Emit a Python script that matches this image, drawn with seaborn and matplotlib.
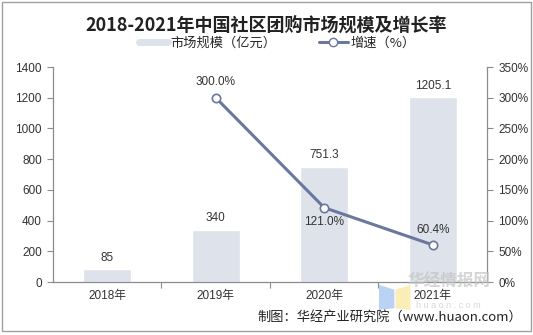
import matplotlib
matplotlib.use("Agg")
import matplotlib.pyplot as plt
from matplotlib.patches import Rectangle, Polygon
from matplotlib.lines import Line2D
from matplotlib.ticker import FuncFormatter
import seaborn as sns
import pandas as pd

years = ["2018年", "2019年", "2020年", "2021年"]
market_size = [85, 340, 751.3, 1205.1]
size_labels = ["85", "340", "751.3", "1205.1"]
growth_years = ["2019年", "2020年", "2021年"]
growth_rate = [3.00, 1.21, 0.604]
growth_labels = ["300.0%", "121.0%", "60.4%"]

title = "2018-2021年中国社区团购市场规模及增长率"
legend_bar = "市场规模（亿元）"
legend_line = "增速（%）"
source = "制图：华经产业研究院（www.huaon.com）"

bar_color = "#DEE2EB"
line_color = "#6A779E"
axis_color = "#8C8C8C"
text_color = "#333333"

sns.set_theme(style="white")
plt.rcParams["font.family"] = ["Liberation Sans", "Noto Sans CJK SC", "DejaVu Sans"]

fig = plt.figure(figsize=(5.33, 3.35), dpi=100)
ax = fig.add_axes([0.0994, 0.1582, 0.8143, 0.6418])

df = pd.DataFrame({"year": years, "size": market_size})
sns.barplot(data=df, x="year", y="size", order=years, color=bar_color,
            width=0.44, saturation=1, ax=ax)
ax.set_xlim(-0.5, 3.5)
ax.set_ylim(0, 1400)
ax.set_yticks(range(0, 1401, 200))
ax.set_xlabel("")
ax.set_ylabel("")

for i, lab in enumerate(size_labels):
    ax.text(i, market_size[i] + 35, lab, ha="center", va="bottom",
            fontsize=8.5, color=text_color)

ax2 = ax.twinx()
gdf = pd.DataFrame({"year": growth_years, "rate": growth_rate})
sns.pointplot(data=gdf, x="year", y="rate", order=years, color=line_color,
              markers="o", linewidth=2.2, markersize=6,
              markerfacecolor="white", markeredgecolor=line_color,
              markeredgewidth=1.2, ax=ax2)
for coll in ax2.collections:
    coll.set_facecolor("white")
    coll.set_edgecolor(line_color)
for ln in ax2.lines:
    ln.set_markerfacecolor("white")
    ln.set_markeredgecolor(line_color)
ax2.set_xlim(-0.5, 3.5)
ax2.set_ylim(0, 3.5)
ax2.set_yticks([i * 0.5 for i in range(8)])
ax2.yaxis.set_major_formatter(FuncFormatter(lambda v, p: f"{v * 100:.0f}%"))
ax2.set_xlabel("")
ax2.set_ylabel("")

offsets = [(0, 0.16, "bottom"), (0, -0.14, "top"), (0, 0.14, "bottom")]
for k, lab in enumerate(growth_labels):
    xi = years.index(growth_years[k])
    dx, dy, va = offsets[k]
    ax2.text(xi + dx, growth_rate[k] + dy, lab, ha="center", va=va,
             fontsize=8.5, color=text_color)

# axes styling
for a in (ax, ax2):
    a.spines["top"].set_visible(False)
    for s in ("left", "right", "bottom"):
        a.spines[s].set_color(axis_color)
        a.spines[s].set_linewidth(0.9)
ax.spines["right"].set_visible(False)
ax2.spines["left"].set_visible(False)
ax2.spines["bottom"].set_visible(False)

ax.tick_params(axis="y", direction="out", length=4, width=0.8, color=axis_color,
               labelsize=8.5, labelcolor=text_color, pad=4, left=True)
ax2.tick_params(axis="y", direction="out", length=4, width=0.8, color=axis_color,
                labelsize=8.5, labelcolor=text_color, pad=4, right=True)
ax.set_xticks(range(len(years)))
ax.set_xticklabels(years)
ax.set_xticks([0.5, 1.5, 2.5], minor=True)
ax.tick_params(axis="x", which="major", length=0, labelsize=8.5,
               labelcolor=text_color, pad=6)
ax.tick_params(axis="x", which="minor", direction="out", length=4, width=0.8,
               color=axis_color, bottom=True)
ax2.tick_params(axis="x", bottom=False, labelbottom=False)

# title and legend
fig.text(0.50, 0.925, title, ha="center", va="center", fontsize=13,
         fontweight="bold", color="#222222",
         family=["Noto Sans CJK SC", "DejaVu Sans"])
handles = [
    Line2D([0], [0], color=bar_color, linewidth=5),
    Line2D([0], [0], color=line_color, linewidth=2.2, marker="o",
           markersize=6, markerfacecolor="white", markeredgecolor=line_color),
]
fig.legend(handles, [legend_bar, legend_line], loc="center",
           bbox_to_anchor=(0.52, 0.872), ncol=2, frameon=False,
           handlelength=2.2, columnspacing=3.2, handletextpad=0.2,
           prop={"family": ["Noto Sans CJK SC", "DejaVu Sans"], "size": 9.5})

fig.text(0.98, 0.053, source, ha="right", va="center", fontsize=9.5,
         color="#222222", family=["Noto Sans CJK SC", "DejaVu Sans"])

# watermark logo
fig.patches.append(Polygon([(0.711, 0.150), (0.740, 0.135), (0.740, 0.080), (0.711, 0.075)],
                           closed=True, transform=fig.transFigure,
                           facecolor="#A9C9F2", edgecolor="none", alpha=0.8))
fig.patches.append(Polygon([(0.742, 0.135), (0.770, 0.150), (0.770, 0.075), (0.742, 0.080)],
                           closed=True, transform=fig.transFigure,
                           facecolor="#FBE9A6", edgecolor="none", alpha=0.8))
fig.text(0.842, 0.158, "华经情报网", ha="center", va="center", fontsize=12,
         fontweight="bold", color="#C4C4C4", alpha=0.7,
         family=["Noto Sans CJK SC", "DejaVu Sans"])
fig.text(0.842, 0.087, "h u a o n . c o m", ha="center", va="center",
         fontsize=6.5, color="#C8C8C8", alpha=0.7)

# outer frame
fig.patches.append(Rectangle((0.004, 0.012), 0.992, 0.982, transform=fig.transFigure,
                             fill=False, edgecolor="#A0A0A0", linewidth=1.0))

fig.savefig("out.png", dpi=100)
